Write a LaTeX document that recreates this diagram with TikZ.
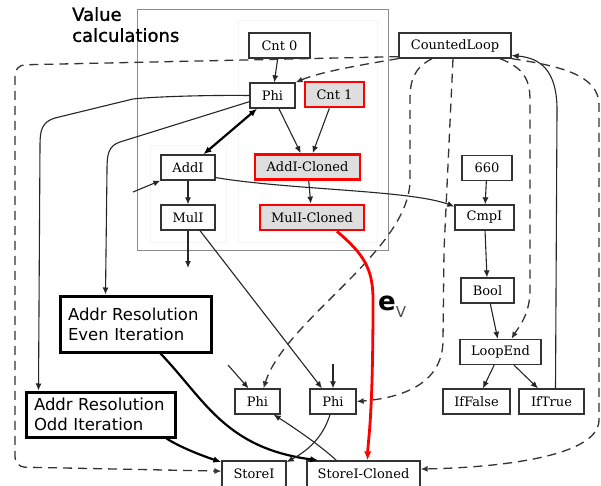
\documentclass[tikz,border=0pt]{standalone}
\usepackage{fontspec}
\setmainfont{DejaVu Serif}
\newfontfamily\dvsans{DejaVu Sans}
\newfontfamily\dvsansfb[FakeBold=1.2]{DejaVu Sans}
\usetikzlibrary{arrows.meta,calc}
\begin{document}
\begin{tikzpicture}[x=1pt,y=-1pt,
  box/.style={draw=black!80, line width=1.3pt, fill=white, inner sep=0pt,
    font=\fontsize{13}{15}\selectfont, minimum height=25pt},
  clone/.style={box, draw=red, line width=2.8pt, fill=black!13},
  bigbox/.style={draw=black, line width=3pt, fill=white,
    font=\dvsans\fontsize{16.5}{20}\selectfont, align=left, inner xsep=8pt, inner ysep=0pt},
  e/.style={-{Latex[length=7pt,width=6pt]}, line width=1.1pt, draw=black!85},
  de/.style={e, dash pattern=on 9pt off 6pt, line width=1.3pt, draw=black!80},
  te/.style={-{Latex[length=8pt,width=6.5pt]}, line width=2.2pt, draw=black},
  re/.style={-{Latex[length=9pt,width=7.5pt]}, line width=2.8pt, draw=red},
  cluster/.style={draw=black!45, line width=0.9pt},
  subcluster/.style={draw=black!4, line width=0.6pt}
]
\fill[white] (0,0) rectangle (601,486);
\useasboundingbox (0,0) rectangle (601,486);

% clusters
\draw[cluster] (137,9) rectangle (388,250);
\draw[subcluster] (238,20) rectangle (377,242);
\draw[subcluster] (150,145) rectangle (226,242);
\node[anchor=north west, inner sep=0pt, align=left,
  font=\dvsansfb\fontsize{18}{21}\selectfont] (vc) at (72,7) {Value\\calculations};

% nodes
\node[box, minimum width=61pt] (cnt0) at (279.5,45.5) {Cnt 0};
\node[box, minimum width=45pt] (phi1) at (272.5,95.5) {Phi};
\node[clone, minimum width=59pt] (cnt1) at (334.5,94.5) {Cnt 1};
\node[box, minimum width=54pt] (addi) at (188,167.5) {AddI};
\node[clone, minimum width=105pt] (addic) at (307.5,167) {AddI-Cloned};
\node[box, minimum width=54pt] (muli) at (188,217.5) {MulI};
\node[clone, minimum width=104pt] (mulic) at (312,217.5) {MulI-Cloned};
\node[box, minimum width=112pt] (cl) at (455,45.5) {CountedLoop};
\node[box, minimum width=50pt] (n660) at (487,168) {660};
\node[box, minimum width=59pt] (cmpi) at (484.5,217.5) {CmpI};
\node[box, minimum width=53pt] (bool) at (487.5,290.5) {Bool};
\node[box, minimum width=81pt] (loopend) at (500.5,352) {LoopEnd};
\node[box, minimum width=67pt] (iffalse) at (476.5,401.5) {IfFalse};
\node[box, minimum width=65pt] (iftrue) at (551.5,401.5) {IfTrue};
\node[bigbox, text width=135pt, minimum height=56pt] (even) at (135.5,324) {Addr Resolution\\Even Iteration};
\node[bigbox, text width=133pt, minimum height=45pt] (odd) at (100.5,414.5) {Addr Resolution\\Odd Iteration};
\node[box, minimum width=45pt] (phiL) at (257.5,401.5) {Phi};
\node[box, minimum width=46pt] (phiR) at (333,401.5) {Phi};
\node[box, minimum width=64pt, minimum height=26pt] (storei) at (254,474) {StoreI};
\node[box, minimum width=113pt, minimum height=26pt] (storeic) at (363.5,474) {StoreI-Cloned};

% free ends
\coordinate (fa) at (133,192);
\coordinate (fb) at (188,268);
\coordinate (fc) at (333,364);
\coordinate (fd) at (228,365);

% solid edges
\draw[e] (cnt0) -- (phi1);
\draw[te,{Latex[length=8pt,width=6.5pt]}-{Latex[length=8pt,width=6.5pt]}] (phi1) -- (addi);
\draw[e] (phi1) -- (addic);
\draw[e] (cnt1) -- (addic);
\draw[e] (addi) -- (muli);
\draw[e] (addic) -- (mulic);
\draw[e] (addi.-20) .. controls (290,190) and (410,190) .. (cmpi.160);
\draw[e] (n660) -- (cmpi);
\draw[e] (cmpi) -- (bool);
\draw[e] (bool) -- (loopend);
\draw[e] (loopend) -- (iffalse);
\draw[e] (loopend) -- (iftrue);
\draw[e] ($(iftrue.north)+(4,0)$) -- (557,110) .. controls (557,70) and (540,58) .. (cl.-10);

\draw[e] (phi1.west) .. controls (200,95) and (150,97) .. (133,99) -- (55,118)
  .. controls (42,122) and (40,130) .. (40,145) -- ($(odd.north west)+(14,0)$);
\draw[e] (phi1.195) -- (120,142) .. controls (108,146) and (107,155) .. (107,170)
  -- ($(even.north west)+(47,0)$);
\draw[e] (fa) -- (addi.south west);
\draw[e] (muli) -- (fb);
\draw[e] ($(muli.south)+(12,0)$) -- ($(phiR.north)+(-11,0)$);
\draw[e] (fc) -- (phiR.north);
\draw[e] (fd) -- ($(phiL.north)+(-9,0)$);
\draw[te] ($(even.south)+(25,0)$) .. controls (205,400) and (225,448) .. ($(storeic.north west)+(12,0)$);
\draw[te] ($(odd.south east)+(-10,0)$) .. controls (180,447) and (200,455) .. (storei.160);
\draw[e] ($(phiR.south)+(-3,0)$) .. controls (322,440) and (305,452) .. (storei.20);
\draw[e] ($(storeic.north west)+(30,0)$) .. controls (320,445) and (290,425) .. ($(phiL.south east)+(-7,0)$);

% dashed edges from CountedLoop
\draw[de] (cl.south west) .. controls (360,65) and (320,72) .. (phi1.north east);
\draw[de, rounded corners=10pt] ($(cl.south west)+(0,-2)$) -- (15,65) -- (15,467) -- (storei.175);
\draw[de] ($(cl.south)+(-23,0)$) .. controls (414,68) and (410,80) .. (410,100) -- (410,180)
  .. controls (410,250) and (285,320) .. ($(phiL.north)+(6,0)$);
\draw[de] ($(cl.south)+(-2,0)$) -- (444,250) -- (443,340) .. controls (443,385) and (400,398) .. (phiR.east);
\draw[de] ($(cl.south)+(45,0)$) .. controls (524,68) and (530,80) .. (530,100) -- (530,290)
  .. controls (530,315) and (518,328) .. ($(loopend.north)+(11,0)$);
\draw[de] (cl.south east) .. controls (560,66) and (599,75) .. (599,105) -- (599,420)
  .. controls (599,460) and (480,468) .. (storeic.5);

% value edge
\draw[re] ($(mulic.south)+(25,0)$) .. controls (365,255) and (373,270) .. (373,300)
  .. controls (373,420) and (368,440) .. ($(storeic.north)+(4,0)$);
\node[anchor=base west, inner sep=0pt] (ev) at (378,310)
  {\dvsans\fontsize{26}{26}\selectfont\bfseries e\raisebox{-7pt}{\mdseries\fontsize{15}{15}\selectfont\color{black!70}V}};
\end{tikzpicture}
\end{document}
